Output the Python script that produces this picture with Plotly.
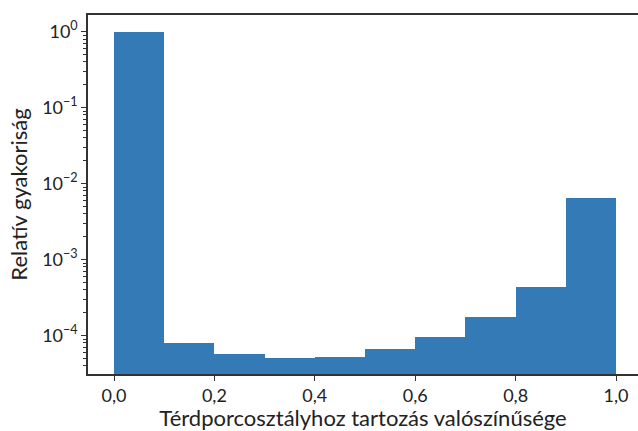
import plotly.graph_objects as go

bin_left = [0.0, 0.1, 0.2, 0.3, 0.4, 0.5, 0.6, 0.7, 0.8, 0.9]
bin_width = 0.1
rel_freq = [0.985, 8.0e-5, 5.74e-5, 5.08e-5, 5.23e-5, 6.59e-5, 9.64e-5, 1.78e-4, 4.4e-4, 6.37e-3]

y_tickvals = [1, 0.1, 0.01, 0.001, 0.0001]
y_ticktext = ["10<sup>0</sup>", "10<sup>−1</sup>", "10<sup>−2</sup>", "10<sup>−3</sup>", "10<sup>−4</sup>"]
x_tickvals = [0.0, 0.2, 0.4, 0.6, 0.8, 1.0]

centers = [b + bin_width / 2 for b in bin_left]

fig = go.Figure(go.Bar(
    x=centers, y=rel_freq, width=[bin_width] * len(centers),
    marker=dict(color="#337ab7", line=dict(width=0)),
))

font = "Lato, Open Sans, sans-serif"
fig.update_layout(
    width=638, height=431,
    margin=dict(l=88, r=0, t=15, b=56.5),
    plot_bgcolor="white", paper_bgcolor="white",
    separators=", ",
    font=dict(family=font, size=18, color="#222"),
    showlegend=False,
    bargap=0,
)
fig.update_xaxes(
    range=[-0.0518, 1.0438], automargin=False,
    tickvals=x_tickvals, tickformat=".1f",
    ticks="outside", ticklen=5, tickwidth=1.2, tickcolor="#333",
    showline=True, linecolor="#333", linewidth=1.5, mirror=True,
    showgrid=False, zeroline=False,
    title=dict(text="Térdporcosztályhoz tartozás valószínűsége", standoff=10),
)
fig.update_yaxes(
    type="log", range=[-4.506, 0.219], automargin=False,
    tickvals=y_tickvals, ticktext=y_ticktext,
    ticks="outside", ticklen=5, tickwidth=1.2, tickcolor="#333",
    minor=dict(ticks="outside", ticklen=3, tickwidth=0.8, tickcolor="#333", dtick="D1", showgrid=False),
    showline=True, linecolor="#333", linewidth=1.5,
    showgrid=False, zeroline=False,
    title=dict(text="Relatív gyakoriság", standoff=8),
)

fig.write_html(
    "out.html",
    config={"displayModeBar": False},
    post_script="document.body.style.margin='0';document.body.style.overflow='hidden';",
)
